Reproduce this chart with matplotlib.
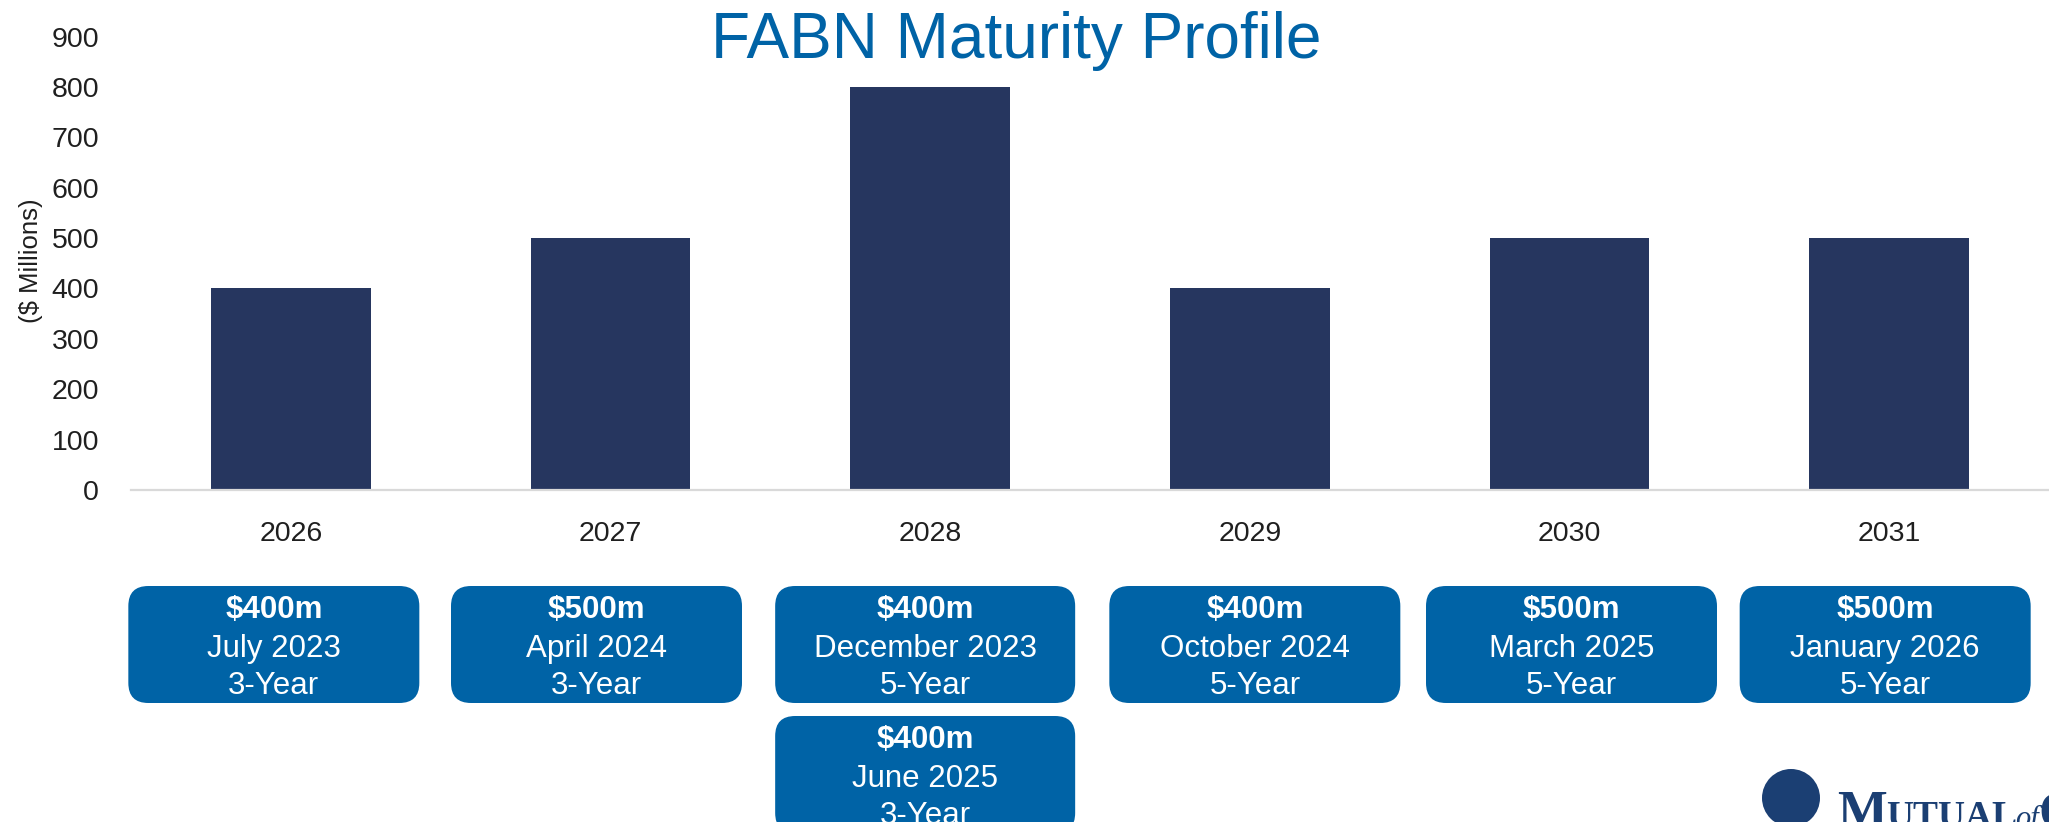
import matplotlib
matplotlib.use('Agg')
import matplotlib.pyplot as plt
from matplotlib.patches import FancyBboxPatch, Circle
from matplotlib.transforms import IdentityTransform

# maturities by year ($ millions)
years = ['2026', '2027', '2028', '2029', '2030', '2031']
maturing = [400, 500, 800, 400, 500, 500]

# individual notes, shown as boxes under their maturity year
note_year = [0, 1, 2, 2, 3, 4, 5]
note_amount = ['$400m', '$500m', '$400m', '$400m', '$400m', '$500m', '$500m']
note_issued = ['July 2023', 'April 2024', 'December 2023', 'June 2025',
               'October 2024', 'March 2025', 'January 2026']
note_tenor = ['3-Year', '3-Year', '5-Year', '3-Year', '5-Year', '5-Year', '5-Year']

bar_color = '#26365F'
blue = '#0063A6'
navy = '#1B3F73'
ink = '#1F1F1F'

plt.rcParams['font.family'] = ['Liberation Sans', 'DejaVu Sans']

W, H = 2049, 822
fig = plt.figure(figsize=(W / 100, H / 100), dpi=100)
ax = fig.add_axes([131 / W, 1 - 490 / H, 1 - 131 / W, (490 - 36.6) / H])

x = list(range(len(years)))
ax.bar(x, maturing, width=0.5, color=bar_color, zorder=2)
ax.set_xlim(-0.5, 5.5)
ax.set_ylim(0, 900)
ax.set_yticks(range(0, 901, 100))
ax.set_xticks(x)
ax.set_xticklabels(years)
for s in ['top', 'right', 'left']:
    ax.spines[s].set_visible(False)
ax.spines['bottom'].set_color('#D9D9D9')
ax.spines['bottom'].set_linewidth(1.6)
ax.tick_params(axis='both', length=0, labelsize=20.5, labelcolor=ink)
ax.tick_params(axis='y', pad=23)
ax.tick_params(axis='x', pad=22)

ax.set_ylabel('($ Millions)', fontsize=18.5, color=ink, va='center')
ax.yaxis.set_label_coords((31 - 131) / 1918, (490 - 261) / 453.4)

fig.text(1016 / W, 1 - 58 / H, 'FABN Maturity Profile', fontsize=46,
         color=blue, ha='center', va='baseline')

# note boxes, in pixel coordinates (slide boxes sit a little off the bar centres)
px = IdentityTransform()
row_tops = [586, 716]
box_h = 117
nudge = [-17, -14, -5, 5, 2, -4]
rows_used = [0] * len(years)
for i, yr in enumerate(note_year):
    row = rows_used[yr]
    rows_used[yr] += 1
    cx = ax.transData.transform((yr, 0))[0] + nudge[yr]
    bw = 300 if yr == 2 else 291
    top = row_tops[row]
    box = FancyBboxPatch((cx - bw / 2, H - top - box_h), bw, box_h,
                         boxstyle='round,pad=0,rounding_size=20',
                         fc=blue, ec='none', transform=px)
    fig.add_artist(box)
    fig.text(cx, H - top - 32, note_amount[i], fontsize=22.5, weight='bold',
             color='white', ha='center', va='baseline', transform=px)
    fig.text(cx, H - top - 70.5, note_issued[i], fontsize=22.5,
             color='white', ha='center', va='baseline', transform=px)
    fig.text(cx, H - top - 108, note_tenor[i], fontsize=22.5,
             color='white', ha='center', va='baseline', transform=px)

# logo, cut off at the corner
fig.add_artist(Circle((1791, H - 798), 29, fc=navy, ec='none', transform=px))
fig.text(1837, -5, 'M', fontsize=38, weight='bold', family='Liberation Serif',
         color=navy, ha='left', va='baseline', transform=px)
fig.text(1886, -5, 'UTUAL', fontsize=27, weight='bold', family='Liberation Serif',
         color=navy, ha='left', va='baseline', transform=px)
fig.text(2015, -5, 'of', fontsize=22, style='italic', family='Liberation Serif',
         color=navy, ha='left', va='baseline', transform=px)
fig.text(2038, -5, 'O', fontsize=38, weight='bold', family='Liberation Serif',
         color=navy, ha='left', va='baseline', transform=px)

fig.savefig('out.png', dpi=100)
